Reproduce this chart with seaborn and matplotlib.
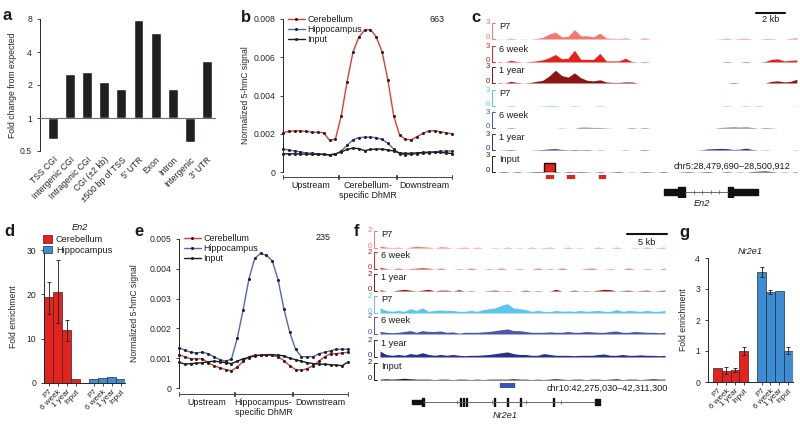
import numpy as np
import pandas as pd
import matplotlib
matplotlib.use("Agg")
import matplotlib.pyplot as plt
import matplotlib.transforms as mtransforms
from matplotlib.lines import Line2D
from matplotlib.patches import Patch
import seaborn as sns

W, H = 800, 428

# ---------------- data ----------------
# a: fold change of DhMR overlap per genomic feature (log2 axis)
a_labels = ["TSS CGI", "Intergenic CGI", "Intragenic CGI", "CGI (\u00b12 kb)",
            "\u00b1500 bp of TSS", "5\u2032 UTR", "Exon", "Intron", "Intergenic", "3\u2032 UTR"]
a_fold = [0.64, 2.50, 2.65, 2.13, 1.84, 7.90, 5.97, 1.82, 0.60, 3.29]

# b / e: 5-hmC profiles over upstream / DhMR / downstream bins
line_samples = ["Cerebellum", "Hippocampus", "Input"]
b_cer = [0.00206, 0.00212, 0.00215, 0.00215, 0.00212, 0.00208, 0.00208, 0.00205, 0.00165, 0.00172,
         0.00294, 0.00472, 0.00626, 0.00704, 0.00742, 0.00745, 0.00707, 0.00629, 0.00481, 0.00293,
         0.00193, 0.00171, 0.00168, 0.00185, 0.00202, 0.00214, 0.00216, 0.00210, 0.00205, 0.00199]
b_hip = [0.00120, 0.00115, 0.00110, 0.00105, 0.00100, 0.00098, 0.00095, 0.00093, 0.00088, 0.00092,
         0.00110, 0.00140, 0.00168, 0.00180, 0.00182, 0.00182, 0.00180, 0.00170, 0.00150, 0.00120,
         0.00095, 0.00090, 0.00092, 0.00095, 0.00098, 0.00100, 0.00105, 0.00108, 0.00110, 0.00110]
b_inp = [0.00095, 0.00095, 0.00095, 0.00094, 0.00093, 0.00093, 0.00092, 0.00092, 0.00090, 0.00095,
         0.00105, 0.00118, 0.00125, 0.00122, 0.00112, 0.00118, 0.00120, 0.00120, 0.00115, 0.00110,
         0.00100, 0.00097, 0.00098, 0.00100, 0.00102, 0.00104, 0.00104, 0.00102, 0.00100, 0.00096]
b_n = "663"

e_cer = [0.00112, 0.00105, 0.00098, 0.00098, 0.00098, 0.00085, 0.00075, 0.00068, 0.00062, 0.00058,
         0.00070, 0.00090, 0.00105, 0.00110, 0.00110, 0.00110, 0.00110, 0.00105, 0.00092, 0.00075,
         0.00062, 0.00060, 0.00065, 0.00075, 0.00090, 0.00105, 0.00115, 0.00115, 0.00118, 0.00120]
e_hip = [0.00135, 0.00127, 0.00120, 0.00118, 0.00120, 0.00115, 0.00105, 0.00095, 0.00090, 0.00097,
         0.00167, 0.00262, 0.00366, 0.00435, 0.00452, 0.00445, 0.00427, 0.00363, 0.00266, 0.00187,
         0.00130, 0.00105, 0.00105, 0.00105, 0.00115, 0.00120, 0.00125, 0.00130, 0.00130, 0.00130]
e_inp = [0.00087, 0.00080, 0.00082, 0.00083, 0.00085, 0.00088, 0.00090, 0.00088, 0.00085, 0.00082,
         0.00090, 0.00098, 0.00102, 0.00108, 0.00110, 0.00112, 0.00112, 0.00110, 0.00108, 0.00100,
         0.00095, 0.00090, 0.00085, 0.00082, 0.00080, 0.00080, 0.00078, 0.00077, 0.00075, 0.00087]
e_n = "235"

# c / f: genome browser tracks (binned signal)
trk_names = ["P7", "6 week", "1 year", "P7", "6 week", "1 year", "Input"]
c_chrom, c_start, c_end = "chr5", 28479690, 28500912
c_tracks = [
    [0.05, 0, 0.15, 0, 0.05, 0, 0.1, 0.3, 0.9, 1.3, 0.4, 0.5, 1.75, 0.6, 0.6, 0.4, 1.1, 0.2, 0.1, 0.1, 0.2, 0, 0, 0.2,
     0, 0, 0, 0, 0, 0, 0, 0, 0, 0, 0, 0.05, 0.15, 0, 0.1, 0.15, 0, 0, 0.1, 0.1, 0, 0, 0.1, 0.25],
    [0.1, 0, 0.3, 0.1, 0, 0.1, 0.2, 0.4, 0.8, 1.4, 0.6, 0.7, 2.2, 0.5, 0.5, 0.5, 1.6, 0.2, 0.2, 0.2, 0.7, 0.1, 0, 0.1,
     0, 0, 0, 0, 0, 0, 0, 0, 0, 0, 0, 0, 0.1, 0, 0, 0.1, 0, 0, 0.1, 0.5, 0.6, 0.2, 0.3, 0.4],
    [0.1, 0, 0.3, 0.1, 0, 0.1, 0.3, 0.5, 1.3, 2.4, 1.4, 1.1, 1.9, 1.0, 0.5, 0.4, 0.6, 0.2, 0.1, 0.1, 0.2, 0.2, 0, 0,
     0, 0, 0, 0, 0, 0, 0, 0, 0, 0, 0, 0, 0, 0.1, 0, 0, 0, 0, 0, 0.3, 0.4, 0.2, 0.3, 0.7],
    [0, 0, 0.1, 0, 0, 0, 0, 0.05, 0.1, 0.1, 0, 0, 0.1, 0, 0, 0, 0.1, 0, 0, 0, 0, 0, 0, 0,
     0, 0, 0, 0, 0, 0, 0, 0, 0, 0, 0, 0, 0.1, 0, 0, 0.1, 0, 0.1, 0, 0, 0, 0, 0, 0.05],
    [0, 0, 0.1, 0, 0, 0, 0, 0, 0, 0, 0.05, 0, 0, 0.15, 0.15, 0.1, 0.1, 0.05, 0, 0, 0, 0.1, 0, 0.1,
     0, 0, 0, 0, 0, 0, 0, 0, 0, 0, 0, 0.1, 0.15, 0.2, 0.15, 0.2, 0.1, 0, 0.1, 0.05, 0, 0, 0, 0],
    [0, 0.05, 0.1, 0, 0, 0, 0.05, 0.1, 0.2, 0.25, 0.1, 0.05, 0.1, 0.05, 0.1, 0, 0.05, 0, 0, 0, 0.05, 0, 0, 0.1,
     0, 0, 0, 0, 0, 0, 0, 0, 0.05, 0.2, 0.25, 0.3, 0.25, 0.1, 0.15, 0.35, 0.1, 0, 0.05, 0, 0, 0, 0, 0.05],
    [0.05, 0.1, 0, 0.1, 0, 0.05, 0.1, 0.1, 0.05, 0.1, 0, 0.1, 0.05, 0.1, 0.05, 0, 0.1, 0, 0.05, 0.1, 0, 0.05, 0, 0.1,
     0.05, 0, 0.1, 0, 0, 0.05, 0.1, 0, 0.05, 0.1, 0, 0, 0.1, 0, 0.05, 0, 0.1, 0.15, 0.2, 0.1, 0, 0.05, 0, 0.1],
]
c_dhmr = [(3.55, 0.49), (5.01, 0.49), (7.24, 0.41)]     # kb offset, width
c_dhmr_qpcr = (3.41, 0.76)
c_gene = "En2"
c_utr = [(11.76, 0.97), (16.56, 1.74)]
c_cds = [(12.73, 0.49), (16.21, 0.35)]
c_intron = (13.22, 16.21)

f_chrom, f_start, f_end = "chr10", 42275030, 42311300
f_tracks = [
    [0.25, 0.1, 0.05, 0.1, 0, 0.1, 0.2, 0.15, 0.1, 0, 0.15, 0.1, 0, 0.05, 0.1, 0, 0.1, 0, 0, 0.05, 0, 0.1, 0, 0.05,
     0, 0.1, 0, 0.05, 0.1, 0, 0, 0.1, 0, 0.05, 0, 0, 0.1, 0, 0, 0.1, 0, 0, 0.05, 0, 0.1, 0, 0.05, 0.1],
    [0.2, 0.05, 0, 0.1, 0, 0.05, 0.1, 0.15, 0.1, 0, 0.1, 0, 0, 0.05, 0, 0.1, 0, 0, 0.05, 0, 0.1, 0, 0, 0.05,
     0, 0, 0.1, 0, 0.05, 0, 0.1, 0, 0, 0, 0.05, 0.1, 0, 0, 0.05, 0, 0, 0.1, 0, 0, 0.05, 0, 0, 0.1],
    [0.15, 0, 0, 0.1, 0.2, 0.1, 0, 0.1, 0.2, 0, 0.1, 0.1, 0, 0.15, 0, 0.05, 0, 0, 0.05, 0.1, 0, 0.05, 0, 0,
     0.1, 0, 0.05, 0, 0, 0.2, 0, 0, 0.1, 0, 0.05, 0, 0.1, 0.2, 0.15, 0, 0.05, 0.1, 0, 0.05, 0.1, 0, 0.05, 0.1],
    [0.6, 0.3, 0.2, 0.3, 0.2, 0.5, 0.3, 0.6, 0.2, 0.3, 0.35, 0.3, 0.3, 0.2, 0.2, 0.3, 0.2, 0.4, 0.5, 0.6, 0.9, 1.1, 0.6, 0.5,
     0.4, 0.2, 0.3, 0.2, 0.15, 0.3, 0.2, 0.25, 0.2, 0.3, 0.2, 0.25, 0.3, 0.2, 0.2, 0.4, 0.2, 0.3, 0.25, 0.2, 0.3, 0.2, 0.2, 0.3],
    [0.3, 0.2, 0.15, 0.2, 0.3, 0.4, 0.2, 0.4, 0.3, 0.3, 0.35, 0.2, 0.25, 0.1, 0.2, 0.2, 0.2, 0.25, 0.3, 0.4, 0.5, 0.6, 0.4, 0.4,
     0.3, 0.2, 0.2, 0.2, 0.25, 0.2, 0.2, 0.3, 0.2, 0.2, 0.3, 0.25, 0.2, 0.2, 0.3, 0.35, 0.2, 0.2, 0.3, 0.25, 0.2, 0.2, 0.15, 0.2],
    [0.7, 0.3, 0.2, 0.3, 0.2, 0.4, 0.3, 0.5, 0.3, 0.2, 0.3, 0.2, 0.3, 0.2, 0.15, 0.2, 0.2, 0.25, 0.3, 0.4, 0.5, 0.6, 0.4, 0.3,
     0.3, 0.2, 0.2, 0.4, 0.3, 0.2, 0.2, 0.2, 0.15, 0.2, 0.2, 0.2, 0.3, 0.35, 0.2, 0.2, 0.3, 0.2, 0.2, 0.25, 0.2, 0.2, 0.15, 0.2],
    [0.1, 0.15, 0.1, 0.15, 0.2, 0.15, 0.1, 0.1, 0.1, 0.05, 0.1, 0.1, 0.05, 0.1, 0.1, 0.05, 0.1, 0.05, 0.1, 0.1, 0.1, 0.1, 0.15, 0.1,
     0.1, 0.05, 0.1, 0.05, 0.1, 0.15, 0.1, 0.05, 0.1, 0.1, 0.05, 0.1, 0.1, 0.05, 0.1, 0.15, 0.05, 0.1, 0.1, 0.05, 0.1, 0.15, 0.1, 0.1],
]
f_dhmr = [(15.33, 1.74)]
f_gene = "Nr2e1"
f_utr = [(4.36, 1.37)]
f_end_exon = [(27.17, 0.62)]
f_exons = [5.65, 10.34, 10.68, 11.09, 14.58, 16.17, 17.82, 21.97]
f_intron = (5.73, 27.17)

# d / g: qPCR fold enrichment
tissues = ["Cerebellum", "Hippocampus"]
conds = ["P7", "6 week", "1 year", "Input"]
d_vals = [19.3, 20.5, 11.9, 1.0, 1.0, 1.1, 1.3, 1.0]
d_lo = [3.8, 7.0, 2.4, 0, 0, 0, 0, 0]
d_hi = [3.4, 7.2, 2.4, 0, 0, 0, 0, 0]
g_vals = [0.45, 0.35, 0.38, 1.0, 3.55, 2.90, 2.93, 1.0]
g_lo = [0, 0.08, 0.06, 0.12, 0.17, 0.07, 0, 0.10]
g_hi = [0, 0.12, 0.07, 0.12, 0.17, 0.08, 0, 0.12]

# ---------------- style ----------------
sns.set_style("ticks")
plt.rcParams["font.family"] = ["Liberation Sans", "DejaVu Sans"]
plt.rcParams.update({"font.size": 6.2, "axes.linewidth": 0.7,
                     "xtick.major.width": 0.6, "ytick.major.width": 0.6,
                     "xtick.major.size": 2.2, "ytick.major.size": 2.2,
                     "xtick.labelsize": 6.2, "ytick.labelsize": 6.2,
                     "axes.labelsize": 6.2, "text.color": "#1a1a1a"})

line_pal = {"Cerebellum": "#e63b33", "Hippocampus": "#5367b3", "Input": "#1e1e1e"}
bar_pal = {"Cerebellum": "#e4221e", "Hippocampus": "#3c8dd3"}
trk_colors = ["#f07a6f", "#e4221c", "#8c1712", "#5cc5ee", "#4b56b0", "#2a2e8c", "#1e1e1e"]

fig = plt.figure(figsize=(8, 4.28), dpi=100)


def box(l, t, r, b):
    return [l / W, 1 - b / H, (r - l) / W, (b - t) / H]


def ftext(x, y, s, **kw):
    fig.text(x / W, 1 - y / H, s, **kw)


for letter, (lx, ly) in zip("abcdefg", [(7, 16), (246, 18), (476, 17), (9, 232),
                                        (139, 232), (357, 231), (684, 233)]):
    ftext(lx, ly, letter, fontsize=12, fontweight="bold", ha="center", va="center")

# ---------------- a ----------------
ax = fig.add_axes(box(40, 19, 216, 151))
sns.barplot(x=a_labels, y=np.array(a_fold) - 1, bottom=1, color="#231f20", width=0.58,
            saturation=1, errorbar=None, ax=ax)
ax.set_yscale("log", base=2)
ax.set_ylim(0.5, 8)
ax.set_yticks([0.5, 1, 2, 4, 8], ["0.5", "1", "2", "4", "8"])
ax.yaxis.set_minor_locator(plt.NullLocator())
ax.set_xlim(-0.76, 9.53)
ax.axhline(1, color="#6d6d6d", lw=0.8, zorder=3)
ax.set_xticks(range(len(a_labels)))
ax.set_xticklabels(a_labels, rotation=45, ha="right", rotation_mode="anchor")
ax.tick_params(axis="x", length=0, pad=3)
ax.set_ylabel("Fold change from expected")
ax.yaxis.set_label_coords(-0.131, 0.5)
sns.despine(ax=ax, bottom=True)


# ---------------- b / e ----------------
def profile(bx, cer, hip, inp, ymax, step, seg_labels, n_text, n_xy, ylab_x, brk_px, leg_dy):
    l, t, r, b = bx
    hpx = b - t
    ax = fig.add_axes(box(*bx))
    n = len(cer)
    df = pd.DataFrame({"bin": np.tile(np.arange(n), 3),
                       "signal": np.concatenate([cer, hip, inp]),
                       "sample": np.repeat(line_samples, n)})
    sns.lineplot(data=df, x="bin", y="signal", hue="sample", palette=line_pal, estimator=None,
                 marker="o", markersize=2.2, markerfacecolor="#222222", markeredgecolor="#222222",
                 markeredgewidth=0, linewidth=1.0, legend=False, clip_on=False, ax=ax)
    ax.set_xlim(0, n - 1)
    ax.set_ylim(0, ymax)
    ticks = np.arange(0, ymax + step / 2, step)
    ax.set_yticks(ticks, ["0"] + [f"{v:.3f}" for v in ticks[1:]])
    ax.set_xticks([])
    ax.set_xlabel("")
    ax.set_ylabel("Normalized 5-hmC signal")
    ax.yaxis.set_label_coords(ylab_x, 0.5)
    sns.despine(ax=ax, bottom=True)
    tr = mtransforms.blended_transform_factory(ax.transData, ax.transAxes)
    yb = -brk_px / hpx
    dt = 2.0 / hpx
    seg = [(0, 9.4), (9.65, 19.35), (19.6, n - 1)]
    for (x0, x1), lab in zip(seg, seg_labels):
        ax.plot([x0, x1], [yb, yb], color="#444444", lw=0.7, transform=tr, clip_on=False)
        for xe in (x0, x1):
            ax.plot([xe, xe], [yb - dt, yb + dt], color="#444444", lw=0.7, transform=tr, clip_on=False)
        ax.text((x0 + x1) / 2, yb - 4 / hpx, lab, ha="center", va="top", transform=tr,
                linespacing=1.15, fontsize=6.4)
    handles = [Line2D([], [], color=line_pal[s], lw=1.0, marker="o", markersize=2.2,
                      markerfacecolor="#222222", markeredgewidth=0) for s in line_samples]
    ax.legend(handles, line_samples, loc="upper left", bbox_to_anchor=(5 / (r - l), 1 + leg_dy / hpx),
              frameon=False, fontsize=6.4, handlelength=1.9, handletextpad=0.3, labelspacing=0.12,
              borderaxespad=0, borderpad=0)
    ftext(n_xy[0], n_xy[1], n_text, fontsize=6.4, ha="center", va="center")


profile((283, 19, 452, 172), b_cer, b_hip, b_inp, 0.008, 0.002,
        ["Upstream", "Cerebellum-\nspecific DhMR", "Downstream"], b_n, (437, 20), -0.195, 5, 4)
profile((179, 239, 348, 388), e_cer, e_hip, e_inp, 0.005, 0.001,
        ["Upstream", "Hippocampus-\nspecific DhMR", "Downstream"], e_n, (323, 238), -0.234, 6, 5)


# ---------------- c / f ----------------
def draw_tracks(left, right, bases, hgt, ymax, series, length):
    axes = []
    wpx = right - left
    for vals, col, name, base in zip(series, trk_colors, trk_names, bases):
        ax = fig.add_axes(box(left, base - hgt, right, base))
        xs = (np.arange(len(vals)) + 0.5) * length / len(vals)
        ax.fill_between(xs, 0, vals, color=col, lw=0)
        ax.axhline(0, color="#cdcdcd", lw=0.6, zorder=0)
        ax.set_xlim(0, length)
        ax.set_ylim(0, ymax)
        ax.axis("off")
        tr = mtransforms.blended_transform_factory(ax.transAxes, ax.transData)
        ax.plot([-0.5 / wpx, -3.5 / wpx, -3.5 / wpx, -0.5 / wpx], [ymax, ymax, 0, 0],
                color=col, lw=0.7, transform=tr, clip_on=False)
        lab_tr = tr + mtransforms.ScaledTranslation(0, 1.5 / 100, fig.dpi_scale_trans)
        ax.text(-5 / wpx, ymax, str(ymax), color=col, ha="right", va="center",
                fontsize=5.6, transform=tr)
        ax.text(-5 / wpx, 0, "0", color=col, ha="right", va="center", fontsize=5.6,
                transform=lab_tr)
        ax.text(4 / wpx, 0.78 * ymax, name, ha="left", va="center", fontsize=6.6, transform=tr)
        axes.append(ax)
    return axes


def gene_model(bx, length, utr, cds, intron, tall_marks=None, tall_w=0.15):
    ax = fig.add_axes(box(*bx))
    ax.set_xlim(0, length)
    ax.set_ylim(-1, 1)
    ax.axis("off")
    ax.plot(intron, [0, 0], color="#555555", lw=0.6)
    arrows = np.linspace(intron[0], intron[1], 6)[1:-1]
    ax.plot(arrows, np.zeros_like(arrows), ls="none", marker="|", ms=2.2, mew=0.5, color="#555555")
    ax.broken_barh(utr, (-0.45, 0.9), color="#111111")
    if cds:
        ax.broken_barh(cds, (-0.9, 1.8), color="#111111")
    if tall_marks is not None:
        ax.broken_barh([(x, tall_w) for x in tall_marks], (-0.9, 1.8), color="#111111")
    return ax


c_len = (c_end - c_start) / 1000
c_axes = draw_tracks(495, 800, [39, 62, 83, 106, 128, 150, 172], 16, 3, c_tracks, c_len)
# highlighted DhMR in input track
c_axes[-1].bar(c_dhmr_qpcr[0], 1.7, width=c_dhmr_qpcr[1], align="edge", color="#e4221c",
               edgecolor="#111111", linewidth=1.0)
tr0 = mtransforms.blended_transform_factory(c_axes[0].transData, c_axes[0].transAxes)
c_axes[0].plot([c_len - 3.03, c_len - 1.03], [1.63, 1.63], color="#111111", lw=1.5,
               transform=tr0, clip_on=False)
c_axes[0].text(c_len - 2.03, 1.2, "2 kb", ha="center", va="center", fontsize=6.6,
               transform=tr0)
ftext(790, 166, f"{c_chrom}:{c_start:,}\u2013{c_end:,}", ha="right", va="center", fontsize=6.6)
axd = fig.add_axes(box(495, 175, 800, 179))
axd.set_xlim(0, c_len)
axd.set_ylim(0, 1)
axd.axis("off")
axd.broken_barh(c_dhmr, (0, 1), color="#e4221c")
gene_model((495, 186, 800, 198), c_len, c_utr, c_cds, c_intron)
ftext(702, 203, c_gene, ha="center", va="center", fontsize=6.6, style="italic")

f_len = (f_end - f_start) / 1000
f_axes = draw_tracks(377, 668, [248, 269, 291, 313, 334, 357, 380], 17, 2, f_tracks, f_len)
tr0 = mtransforms.blended_transform_factory(f_axes[0].transData, f_axes[0].transAxes)
f_axes[0].plot([f_len - 5.1, f_len - 0.1], [0.82, 0.82], color="#111111", lw=1.5,
               transform=tr0, clip_on=False)
f_axes[0].text(f_len - 2.6, 0.3, "5 kb", ha="center", va="center", fontsize=6.6, transform=tr0)
ftext(668, 388, f"{f_chrom}:{f_start:,}\u2013{f_end:,}", ha="right", va="center", fontsize=6.6)
axd = fig.add_axes(box(377, 383, 668, 387))
axd.set_xlim(0, f_len)
axd.set_ylim(0, 1)
axd.axis("off")
axd.broken_barh(f_dhmr, (0, 1), color="#3a55b5")
gax = gene_model((377, 397, 668, 407), f_len, f_utr, None, f_intron, tall_marks=f_exons)
gax.broken_barh(f_end_exon, (-0.6, 1.2), color="#111111")
ftext(505, 416, f_gene, ha="center", va="center", fontsize=6.6, style="italic")


# ---------------- d / g ----------------
def enrich(bx, vals, lo, hi, ymax, step, title, title_xy, xlim, ylab_x):
    ax = fig.add_axes(box(*bx))
    keys = [f"{t}|{c}" for t in tissues for c in conds]
    order = keys[:4] + ["gap"] + keys[4:]
    df = pd.DataFrame({"key": keys, "val": vals, "tissue": np.repeat(tissues, len(conds))})
    sns.barplot(data=df, x="key", y="val", hue="tissue", order=order, palette=bar_pal,
                dodge=False, width=1, saturation=1, errorbar=None, edgecolor="#2b2b2b",
                linewidth=0.5, legend=False, ax=ax)
    pos = np.array([order.index(k) for k in keys])
    vals = np.array(vals)
    lo = np.array(lo)
    hi = np.array(hi)
    m = (lo + hi) > 0
    ax.errorbar(pos[m], vals[m], yerr=[lo[m], hi[m]], fmt="none", ecolor="#1a1a1a",
                elinewidth=0.6, capsize=1.6, capthick=0.6)
    ax.set_xticks(pos, conds * 2, rotation=45, ha="right", rotation_mode="anchor", fontsize=5.8)
    ax.tick_params(axis="x", pad=1.5)
    ax.set_xlim(*xlim)
    ax.set_ylim(0, ymax)
    ax.set_yticks(np.arange(0, ymax + step / 2, step))
    ax.set_xlabel("")
    ax.set_ylabel("Fold enrichment")
    ax.yaxis.set_label_coords(ylab_x, 0.5)
    sns.despine(ax=ax)
    ftext(title_xy[0], title_xy[1], title, ha="center", va="center", fontsize=6.6, style="italic")
    return ax


enrich((44, 250, 125, 383), d_vals, d_lo, d_hi, 30, 10, c_gene, (80, 227), (-0.5, 8.5), -0.327)
enrich((708, 258, 793, 382), g_vals, g_lo, g_hi, 4, 1, f_gene, (750, 252), (-1.05, 8.55), -0.235)
fig.legend(handles=[Patch(facecolor=bar_pal[t], edgecolor="#2b2b2b", lw=0.5, label=t) for t in tissues],
           loc="upper left", bbox_to_anchor=(43 / W, 1 - 235 / H), frameon=False, fontsize=6.6,
           handlelength=1.0, handleheight=0.9, handletextpad=0.4, labelspacing=0.2,
           borderaxespad=0, borderpad=0)

fig.savefig("out.png", dpi=100)
